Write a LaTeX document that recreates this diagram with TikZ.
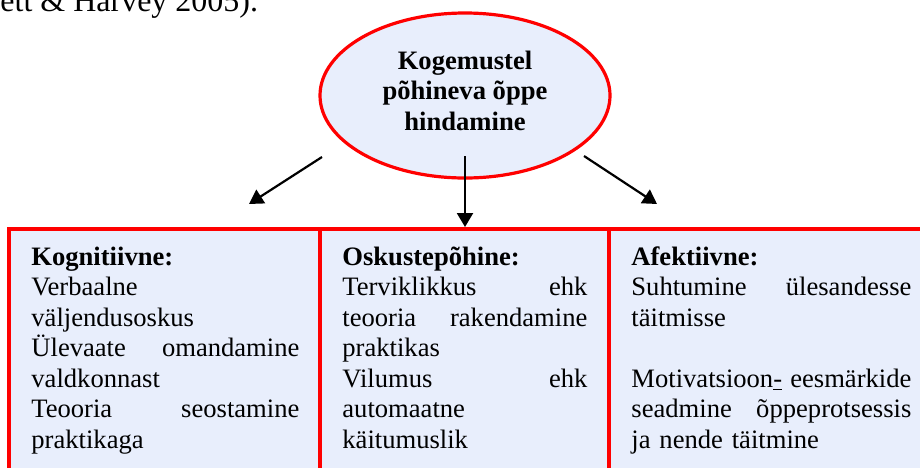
\documentclass[tikz,border=0pt]{standalone}
\usepackage{fontspec}
\setmainfont{Liberation Serif}
\usetikzlibrary{shapes.geometric}
\usetikzlibrary{arrows.meta}

\definecolor{boxfill}{RGB}{232,238,252}

\begin{document}
\begin{tikzpicture}[x=0.5pt,y=-0.5pt,
    colbox/.style={fill=boxfill, draw=red, line width=1.6pt},
    coltext/.style={font=\fontsize{13.3}{15.25}\selectfont, align=left, inner sep=0pt, anchor=base west},
    branch/.style={-{Triangle[length=7pt,width=8pt]}, line width=1.1pt}]

        % Page frame
        \useasboundingbox (0,0) rectangle (920,467);
        \clip (0,0) rectangle (920,467);

        % Tail of the line above the figure
        \node[font=\fontsize{16}{19}\selectfont, inner sep=0pt, anchor=base west] (cite) at (0,11) {ett \& Harvey 2005).};

        % Three columns
        \draw[colbox] (9,229) rectangle (320,490);
        \draw[colbox] (320,229) rectangle (609,490);
        \draw[colbox] (609,229) rectangle (935,490);

        % Central ellipse
        \node[ellipse, colbox, minimum width=145pt, minimum height=82.5pt, inner sep=0pt, text depth=5pt,
              align=center, font=\fontsize{13.3}{15.25}\selectfont\bfseries] (hub) at (465,95.5)
              {Kogemustel\\põhineva õppe\\hindamine};

        % Column texts
        \node[coltext, text width=134pt] (kog) at (31,265)
              {\textbf{Kognitiivne:}\\
               Verbaalne\\
               väljendusoskus\\
               Ülevaate\hfill omandamine\\
               valdkonnast\\
               Teooria\hfill seostamine\\
               praktikaga};
        \node[coltext, text width=122.5pt] (osk) at (342,265)
              {\textbf{Oskustepõhine:}\\
               Terviklikkus\hfill ehk\\
               teooria\hfill rakendamine\\
               praktikas\\
               Vilumus\hfill ehk\\
               automaatne\\
               käitumuslik};
        \node[coltext, text width=140pt] (afe) at (631,265)
              {\textbf{Afektiivne:}\\
               Suhtumine\hfill ülesandesse\\
               täitmisse\\[15.25pt]
               Motivatsioon\underline{-}\hfill eesmärkide\\
               seadmine\hfill õppeprotsessis\\
               ja nende täitmine};

        % Arrows from the ellipse to the columns
        \coordinate (kogfoot) at (322,157);
        \coordinate (oskfoot) at (465,156);
        \coordinate (afefoot) at (584,156);
        \coordinate (kogtip) at (249,204);
        \coordinate (osktip) at (465,227);
        \coordinate (afetip) at (657,204);
        \draw[branch] (kogfoot) -- (kogtip);
        \draw[branch] (oskfoot) -- (osktip);
        \draw[branch] (afefoot) -- (afetip);

\end{tikzpicture}
\end{document}
